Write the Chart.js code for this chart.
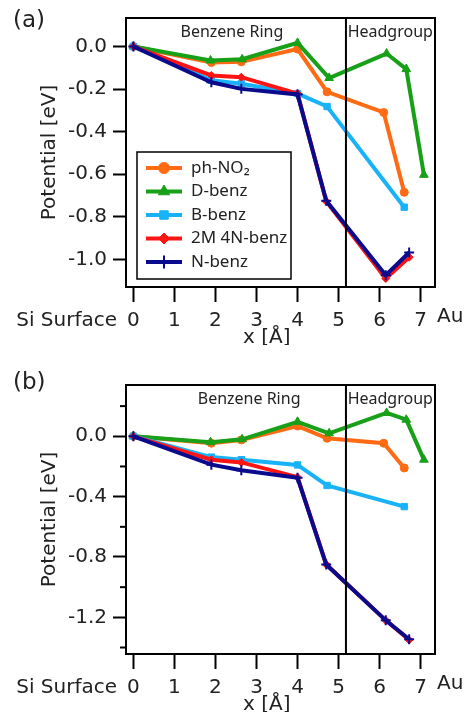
<!DOCTYPE html>
<html>
<head>
<meta charset="utf-8">
<script src="https://cdn.jsdelivr.net/npm/chart.js@4"></script>
<style>
    html, body { margin: 0; padding: 0; background: #fff; }
    #wrap { position: relative; width: 466px; height: 712px; }
    .panel { position: absolute; left: 0; width: 466px; height: 345px; }
</style>
</head>
<body>
<div id="wrap">
    <div class="panel" style="top:0"><canvas id="chartA"></canvas></div>
    <div class="panel" style="top:367px"><canvas id="chartB"></canvas></div>
</div>
<script>
// Data
const seriesNames = ["ph-NO₂", "D-benz", "B-benz", "2M 4N-benz", "N-benz"];

// x positions [Å]
const xPhNO2 = [0, 1.9, 2.63, 4.0, 4.72, 6.1, 6.6];
const xDbenz = [0, 1.88, 2.65, 4.0, 4.77, 6.17, 6.65, 7.08];
const xBbenz = [0, 1.9, 2.63, 4.0, 4.72, 6.6];
const x2M4N = [0, 1.9, 2.63, 4.0, 4.7, 6.15, 6.72];
const xNbenz = [0, 1.9, 2.63, 4.0, 4.7, 6.15, 6.72];

// (a) potential [eV]
const aPhNO2 = [0, -0.075, -0.072, -0.012, -0.213, -0.31, -0.685];
const aDbenz = [0, -0.066, -0.06, 0.017, -0.148, -0.033, -0.106, -0.603];
const aBbenz = [0, -0.159, -0.175, -0.221, -0.282, -0.755];
const a2M4N = [0, -0.136, -0.144, -0.221, -0.728, -1.09, -0.99];
const aNbenz = [0, -0.168, -0.199, -0.225, -0.725, -1.075, -0.968];

// (b) potential [eV]
const bPhNO2 = [0, -0.046, -0.024, 0.068, -0.013, -0.046, -0.21];
const bDbenz = [0, -0.039, -0.02, 0.096, 0.02, 0.155, 0.11, -0.155];
const bBbenz = [0, -0.138, -0.155, -0.19, -0.326, -0.466];
const b2M4N = [0, -0.155, -0.173, -0.271, -0.85, -1.22, -1.35];
const bNbenz = [0, -0.188, -0.225, -0.275, -0.85, -1.22, -1.345];

// ticks
const xTickValues = [0, 1, 2, 3, 4, 5, 6, 7];
const yTicksA = [0, -0.2, -0.4, -0.6, -0.8, -1.0];
const yTicksB = [0, -0.4, -0.8, -1.2];
const yMinorB = [0.2, -0.2, -0.6, -1.0, -1.4];

// styles
const colors = ["#ff6a13", "#18a018", "#18b2f8", "#ff1414", "#0a0a8c"];
const pointStyles = ["circle", "triangle", "rect", "rectRot", "cross"];
const pointSizes = [4, 5, 4.5, 4, 5];

Chart.defaults.font.family = "DejaVu Sans";
Chart.defaults.color = "#222";

function toPoints(xs, ys) {
    return xs.map((x, i) => ({ x: x, y: ys[i] }));
}

function makeDatasets(xsList, ysList) {
    return ysList.map((ys, i) => ({
        label: seriesNames[i],
        data: toPoints(xsList[i], ys),
        borderColor: colors[i],
        backgroundColor: colors[i],
        borderWidth: 4,
        pointStyle: pointStyles[i],
        pointRadius: pointSizes[i],
        pointBorderWidth: i === 4 ? 2 : 1,
        pointBackgroundColor: colors[i],
        pointBorderColor: colors[i],
        order: 4 - i,
    }));
}

// box, divider, labels, legend
const overlay = {
    id: "overlay",
    afterDatasetsDraw(chart, args, o) {
        const { ctx, chartArea: a, scales } = chart;
        const x = scales.x, y = scales.y;
        ctx.save();
        ctx.strokeStyle = "#000";
        ctx.lineWidth = 2;

        (o.minorTicks || []).forEach((v) => {
            const py = y.getPixelForValue(v);
            ctx.beginPath();
            ctx.moveTo(a.left - 6, py);
            ctx.lineTo(a.left, py);
            ctx.stroke();
        });

        const dx = x.getPixelForValue(o.divider);
        ctx.beginPath();
        ctx.moveTo(dx, a.top);
        ctx.lineTo(dx, a.bottom);
        ctx.stroke();
        ctx.strokeRect(a.left, a.top, a.right - a.left, a.bottom - a.top);

        ctx.fillStyle = "#222";
        ctx.textBaseline = "middle";

        ctx.font = "16px 'Noto Sans'";
        ctx.textAlign = "center";
        ctx.fillText("Benzene Ring", x.getPixelForValue(o.ringAt), a.top + 14);
        ctx.fillText("Headgroup", x.getPixelForValue(6.26), a.top + 14);

        ctx.font = "23px 'DejaVu Sans'";
        ctx.textAlign = "left";
        ctx.fillText(o.panel, 13, o.panelY);

        ctx.font = "20px 'DejaVu Sans'";
        ctx.textAlign = "right";
        ctx.fillText("Si Surface", a.left - 9, a.bottom + 34);
        ctx.textAlign = "left";
        ctx.fillText("Au", a.right + 2, a.bottom + 30);
        ctx.textAlign = "center";
        ctx.fillText("x [Å]", x.getPixelForValue(3.25), a.bottom + 51);

        if (o.legend) {
            const L = a.left + 11, T = a.top + 134, W = 154, H = 127;
            ctx.fillStyle = "#fff";
            ctx.fillRect(L, T, W, H);
            ctx.lineWidth = 1.5;
            ctx.strokeStyle = "#000";
            ctx.strokeRect(L, T, W, H);
            chart.data.datasets.forEach((ds, i) => {
                const cy = T + 16 + i * 23.5;
                ctx.strokeStyle = ds.borderColor;
                ctx.lineWidth = 4;
                ctx.beginPath();
                ctx.moveTo(L + 9, cy);
                ctx.lineTo(L + 45, cy);
                ctx.stroke();
                ctx.fillStyle = ds.pointBackgroundColor;
                ctx.strokeStyle = ds.pointBorderColor;
                ctx.lineWidth = ds.pointBorderWidth;
                Chart.helpers.drawPoint(ctx, {
                    pointStyle: ds.pointStyle,
                    radius: ds.pointRadius + 1.5,
                    borderWidth: ds.pointBorderWidth,
                    rotation: 0,
                }, L + 27, cy);
                ctx.fillStyle = "#222";
                ctx.font = "17px 'Noto Sans'";
                ctx.textAlign = "left";
                ctx.fillText(ds.label, L + 54, cy);
            });
        }
        ctx.restore();
    },
};

function makeChart(id, datasets, yMin, yMax, yTicks, extra) {
    return new Chart(document.getElementById(id), {
        type: "line",
        data: { datasets: datasets },
        plugins: [overlay],
        options: {
            responsive: true,
            maintainAspectRatio: false,
            animation: false,
            events: [],
            layout: { padding: { top: 14, right: 31, left: 0, bottom: 0 } },
            scales: {
                x: {
                    type: "linear",
                    min: -0.18,
                    max: 7.35,
                    afterBuildTicks: (s) => { s.ticks = xTickValues.map((v) => ({ value: v })); },
                    afterFit: (s) => { s.height = 58; },
                    grid: { drawOnChartArea: false, tickLength: 15, tickWidth: 2, tickColor: "#000" },
                    border: { display: false },
                    ticks: { padding: 7, autoSkip: false, maxRotation: 0, font: { size: 20 }, callback: (v) => String(v) },
                },
                y: {
                    type: "linear",
                    min: yMin,
                    max: yMax,
                    afterBuildTicks: (s) => { s.ticks = yTicks.map((v) => ({ value: v })); },
                    afterFit: (s) => { s.width = 126; },
                    grid: { drawOnChartArea: false, tickLength: 13, tickWidth: 2, tickColor: "#000" },
                    border: { display: false },
                    ticks: { padding: 6, autoSkip: false, font: { size: 20 }, callback: (v) => v.toFixed(1) },
                    title: { display: true, text: "Potential [eV]", font: { size: 20 }, padding: { top: 38 } },
                },
            },
            plugins: {
                legend: { display: false },
                tooltip: { enabled: false },
                overlay: extra,
            },
        },
    });
}

const xsList = [xPhNO2, xDbenz, xBbenz, x2M4N, xNbenz];

makeChart("chartA", makeDatasets(xsList, [aPhNO2, aDbenz, aBbenz, a2M4N, aNbenz]),
    -1.13, 0.134, yTicksA,
    { panel: "(a)", panelY: 21, divider: 5.18, ringAt: 2.4, legend: true, minorTicks: [] });

makeChart("chartB", makeDatasets(xsList, [bPhNO2, bDbenz, bBbenz, b2M4N, bNbenz]),
    -1.443, 0.34, yTicksB,
    { panel: "(b)", panelY: 16, divider: 5.18, ringAt: 2.82, legend: false, minorTicks: yMinorB });
</script>
</body>
</html>
